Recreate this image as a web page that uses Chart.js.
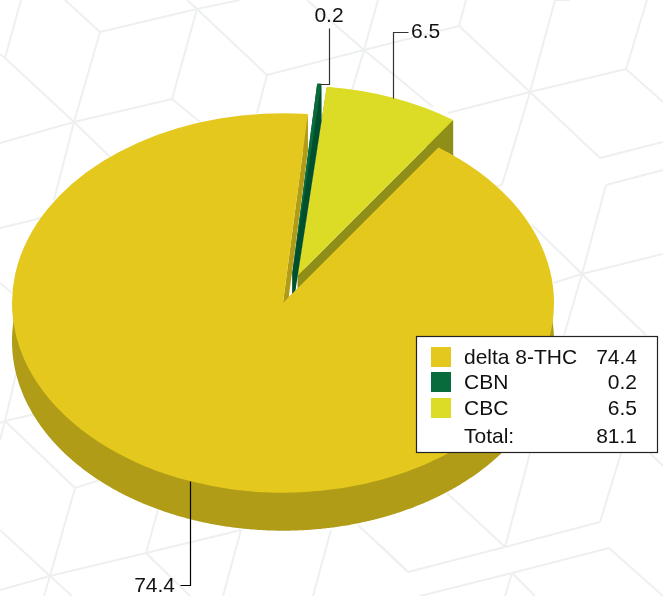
<!DOCTYPE html>
<html>
<head>
<meta charset="utf-8">
<style>html,body{margin:0;padding:0;background:#fff}canvas{display:block}</style>
<script src="https://cdn.jsdelivr.net/npm/chart.js@4"></script>
</head>
<body>
<canvas id="c" width="663" height="596"></canvas>
<script>
const categories = ["delta 8-THC", "CBN", "CBC"];
const values = [74.4, 0.2, 6.5];
const totalLabel = "Total:";
const totalValue = "81.1";
const valueLabels = ["74.4", "0.2", "6.5"];
const faceColors = ["#E4C81E", "#076B3C", "#DCDC26"];
const wallColors = ["#B09C17", "#00502D", "#8E8E18"];
const explode = [0, 44, 42];
const nudgeX = [0, 5, 0];

const SQUASH = 0.7, DEPTH = 38, RADIUS = 271, FONT = '21px "Liberation Sans", Arial, sans-serif';

// decorative hex pattern behind the chart
const pattern = [
 [100,32,65,0],[100,32,197,9],[100,32,74,122],[5,58,21,0],[5,58,74,122],[5,58,0,54],[74,122,0,143],[74,122,172,99],
 [172,99,197,9],[197,9,267,75],[197,9,187,0],[197,9,240,0],[172,99,200,122],[267,75,257,113],[267,75,364,50],
 [74,122,110,157],[74,122,54,200],[364,50,378,0],[364,50,352,90],[364,50,307,0],[364,50,433,107],[364,50,459,26],
 [459,26,466,0],[459,26,530,92],[530,92,626,69],[530,92,600,158],[626,69,647,0],[626,69,663,102],[600,158,663,142],
 [530,92,555,0],[555,0,570,0],[530,92,448,113],[530,92,502,185],[502,185,490,188],[606,185,663,170],[606,185,582,274],
 [582,274,663,254],[582,274,553,283],[582,274,532,225],[582,274,646,335],[582,274,564,335],
 [530,453,505,547],[505,547,408,572],[408,572,358,525],[505,547,447,493],[505,547,600,522],[600,522,621,453],
 [609,548,512,573],[512,573,420,596],[512,573,505,596],[512,573,535,596],[609,548,663,596],[650,453,663,466],
 [241,530,223,596],[331,530,313,596],[408,572,380,545],[75,488,50,576],[50,576,0,530],[50,576,146,553],[146,553,158,510],
 [146,553,190,596],[146,553,241,530],[50,576,0,590],[50,576,44,596],[50,576,72,596],[75,488,100,480],[75,488,5,421],
 [5,421,35,414],[5,421,0,423],[5,421,0,440],[5,421,17,370],[0,228,45,217],[0,283,12,293]
];

// leader layout: elbow then end, text position
const leaders = [
 {pts:[[null,585],[180,585]], text:[175,586,"right"], color:"#000"},
 {pts:[[329,null],[329,28]], text:[329,16,"center"], color:"#333"},
 {pts:[[null,32],[408,32]], text:[411,32,"left"], color:"#333"}
];

const legendBox = {x:416.5, y:336.5, w:241, h:116};
const legendRows = [358, 383, 409, 437];

const plugin = {
  id: "pie3d",
  beforeDraw(chart) {
    const ctx = chart.ctx;
    ctx.save();
    ctx.fillStyle = "#fff";
    ctx.fillRect(0, 0, chart.width, chart.height);
    ctx.strokeStyle = "#EEF0F0";
    ctx.lineWidth = 2;
    pattern.forEach(s => { ctx.beginPath(); ctx.moveTo(s[0], s[1]); ctx.lineTo(s[2], s[3]); ctx.stroke(); });
    ctx.restore();
  },
  beforeDatasetDraw(chart, args) {
    const ctx = chart.ctx, arcs = chart.getDatasetMeta(args.index).data;
    [2, 1, 0].forEach(i => {
      const arc = arcs[i], mid = (arc.startAngle + arc.endAngle) / 2;
      const ox = arc.x + nudgeX[i] + Math.cos(mid) * explode[i];
      const oy = arc.y + Math.sin(mid) * explode[i] * SQUASH;
      const rim = (a, r, dy) => [ox + Math.cos(a) * r, oy + Math.sin(a) * r * SQUASH + dy];

      // side wall: pieces swept from the element's own angles and radius
      ctx.save();
      ctx.fillStyle = wallColors[i];
      ctx.beginPath();
      const steps = Math.max(2, Math.ceil((arc.endAngle - arc.startAngle) * 180));
      for (let s = 0; s <= steps; s++) {
        const p = rim(arc.startAngle + (arc.endAngle - arc.startAngle) * s / steps, arc.outerRadius, DEPTH);
        s ? ctx.lineTo(p[0], p[1]) : ctx.moveTo(p[0], p[1]);
      }
      for (let s = steps; s >= 0; s--) {
        const p = rim(arc.startAngle + (arc.endAngle - arc.startAngle) * s / steps, arc.outerRadius - 2, 0);
        ctx.lineTo(p[0], p[1]);
      }
      ctx.closePath();
      ctx.fill();
      [arc.startAngle, arc.endAngle].forEach(a => {
        const t = rim(a, arc.outerRadius, 0), b = rim(a, arc.outerRadius, DEPTH);
        ctx.beginPath();
        ctx.moveTo(ox, oy); ctx.lineTo(t[0], t[1]); ctx.lineTo(b[0], b[1]); ctx.lineTo(ox, oy + DEPTH); ctx.closePath();
        ctx.fill();
      });
      ctx.restore();

      // top face: the library's arc element
      ctx.save();
      ctx.translate(nudgeX[i], arc.y);
      ctx.scale(1, SQUASH);
      ctx.translate(0, -arc.y);
      ctx.translate(Math.cos(mid) * explode[i], Math.sin(mid) * explode[i]);
      arc.draw(ctx);
      ctx.restore();
    });
    return false;
  },
  afterDatasetsDraw(chart) {
    const ctx = chart.ctx, arcs = chart.getDatasetMeta(0).data;
    ctx.save();
    ctx.font = FONT;
    ctx.textBaseline = "middle";
    arcs.forEach((arc, i) => {
      const mid = (arc.startAngle + arc.endAngle) / 2, r = RADIUS + explode[i];
      const ax = Math.round(arc.x + nudgeX[i] + Math.cos(mid) * r) + 0.5, ay = Math.round(arc.y + Math.sin(mid) * r * SQUASH) + 0.5;
      const L = leaders[i];
      ctx.strokeStyle = L.color;
      ctx.lineWidth = 1.2;
      ctx.beginPath();
      ctx.moveTo(ax, ay);
      let px = ax, py = ay;
      L.pts.forEach(p => {
        px = p[0] === null ? px : p[0] + 0.5;
        py = p[1] === null ? py : p[1] + 0.5;
        ctx.lineTo(px, py);
      });
      ctx.stroke();
      ctx.fillStyle = "#111";
      ctx.textAlign = L.text[2];
      ctx.fillText(valueLabels[i], L.text[0], L.text[1]);
    });

    // legend
    const b = legendBox;
    ctx.fillStyle = "#fff";
    ctx.fillRect(b.x, b.y, b.w, b.h);
    ctx.strokeStyle = "#222";
    ctx.lineWidth = 1.2;
    ctx.strokeRect(b.x, b.y, b.w, b.h);
    categories.forEach((name, i) => {
      ctx.fillStyle = faceColors[i];
      ctx.fillRect(431, legendRows[i] - 11, 20, 20);
      ctx.fillStyle = "#111";
      ctx.textAlign = "left";
      ctx.fillText(name, 464, legendRows[i]);
      ctx.textAlign = "right";
      ctx.fillText(valueLabels[i], 637, legendRows[i]);
    });
    ctx.textAlign = "left";
    ctx.fillText(totalLabel, 464, legendRows[3]);
    ctx.textAlign = "right";
    ctx.fillText(totalValue, 637, legendRows[3]);
    ctx.restore();
  }
};

new Chart(document.getElementById("c"), {
  type: "pie",
  data: {
    labels: categories,
    datasets: [{ data: values, backgroundColor: faceColors, borderWidth: 0, clip: false }]
  },
  options: {
    responsive: false,
    animation: false,
    rotation: 35,
    radius: RADIUS,
    layout: { padding: { left: 0, right: 97, top: 10, bottom: 0 } },
    plugins: { legend: { display: false }, tooltip: { enabled: false } }
  },
  plugins: [plugin]
});
</script>
</body>
</html>
